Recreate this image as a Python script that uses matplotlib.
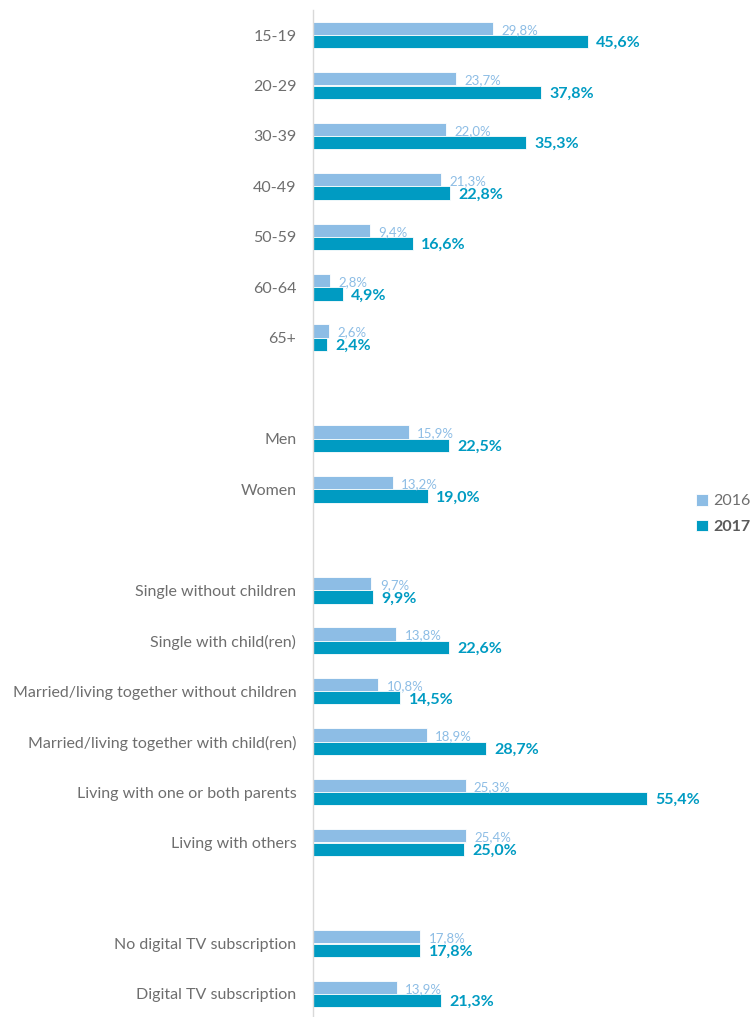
import matplotlib
matplotlib.use("Agg")
import matplotlib.pyplot as plt
import numpy as np

categories = ["15-19", "20-29", "30-39", "40-49", "50-59", "60-64", "65+", "",
              "Men", "Women", "",
              "Single without children", "Single with child(ren)",
              "Married/living together without children",
              "Married/living together with child(ren)",
              "Living with one or both parents", "Living with others", "",
              "No digital TV subscription", "Digital TV subscription"]
v2016 = [29.8, 23.7, 22.0, 21.3, 9.4, 2.8, 2.6, None,
         15.9, 13.2, None,
         9.7, 13.8, 10.8, 18.9, 25.3, 25.4, None,
         17.8, 13.9]
v2017 = [45.6, 37.8, 35.3, 22.8, 16.6, 4.9, 2.4, None,
         22.5, 19.0, None,
         9.9, 22.6, 14.5, 28.7, 55.4, 25.0, None,
         17.8, 21.3]
series_names = ["2016", "2017"]

c16 = "#8DBDE5"
c17 = "#009BC2"
txt_gray = "#6E6E6E"

plt.rcParams['font.family'] = ['Lato', 'DejaVu Sans']

W, H = 751, 1017
fig = plt.figure(figsize=(W / 100, H / 100), dpi=100)
left_px, right_px = 313, 313 + 60 * 6.03
top_px, bot_px = 10, 1017
ax = fig.add_axes([left_px / W, 1 - bot_px / H, (right_px - left_px) / W, (bot_px - top_px) / H])

n = len(categories)
y = np.arange(n)
bh = 0.264
off = 0.133

for i in range(n):
    if v2016[i] is None:
        continue
    ax.barh(y[i] - off, v2016[i], height=bh, color=c16, edgecolor="white", linewidth=0.6,
            label=series_names[0] if i == 0 else None)
    ax.barh(y[i] + off, v2017[i], height=bh, color=c17, edgecolor="white", linewidth=0.6,
            label=series_names[1] if i == 0 else None)
    ax.annotate(f"{v2016[i]:.1f}%".replace(".", ","), xy=(v2016[i], y[i] - off + 0.03),
                xytext=(6, 0), textcoords="offset points", va="center", ha="left",
                fontsize=9.5, color=c16, annotation_clip=False)
    ax.annotate(f"{v2017[i]:.1f}%".replace(".", ","), xy=(v2017[i], y[i] + off + 0.03),
                xytext=(6, 0), textcoords="offset points", va="center", ha="left",
                fontsize=11.5, fontweight="bold", color=c17, annotation_clip=False)

ax.set_xlim(0, 60)
ax.set_ylim((bot_px - 35) / 50.47, (top_px - 35) / 50.47)
ax.set_yticks(y)
ax.set_yticklabels(categories, fontsize=11.5, color=txt_gray)
ax.tick_params(axis="y", length=0, pad=12)
ax.set_xticks([])
for s in ["top", "right", "bottom"]:
    ax.spines[s].set_visible(False)
ax.spines["left"].set_color("#D9D9D9")
ax.spines["left"].set_linewidth(1)

leg = fig.legend(loc="center left", bbox_to_anchor=(696 / W, 1 - 514 / H), frameon=False,
                 borderpad=0, borderaxespad=0,
                 handlelength=0.75, handleheight=0.75, handletextpad=0.35, labelspacing=0.7,
                 fontsize=11.5)
for t in leg.get_texts():
    t.set_color(txt_gray)
leg.get_texts()[1].set_fontweight("bold")
leg.get_texts()[1].set_color("#5A5A5A")

fig.savefig("out.png", dpi=100)
